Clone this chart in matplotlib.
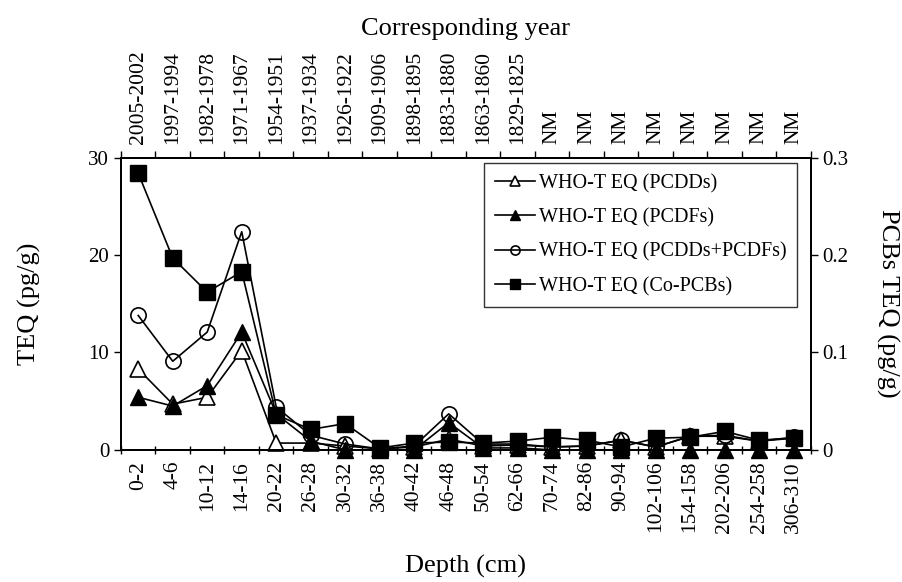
import matplotlib
matplotlib.use("Agg")
import matplotlib.pyplot as plt
import numpy as np

plt.rcParams['font.family'] = ['Liberation Serif', 'DejaVu Serif']

depths = ['0-2', '4-6', '10-12', '14-16', '20-22', '26-28', '30-32', '36-38', '40-42', '46-48',
          '50-54', '62-66', '70-74', '82-86', '90-94', '102-106', '154-158', '202-206', '254-258', '306-310']
years = ['2005-2002', '1997-1994', '1982-1978', '1971-1967', '1954-1951', '1937-1934', '1926-1922',
         '1909-1906', '1898-1895', '1883-1880', '1863-1860', '1829-1825',
         'NM', 'NM', 'NM', 'NM', 'NM', 'NM', 'NM', 'NM']

pcdds = [8.3, 4.7, 5.4, 10.2, 0.7, 0.7, 0.4, 0.1, 0.3, 1.1, 0.4, 0.5, 0.3, 0.4, 1.0, 0.3, 1.4, 1.4, 0.9, 1.2]
pcdfs = [5.4, 4.5, 6.6, 12.1, 3.7, 0.9, 0.0, 0.0, 0.0, 2.8, 0.2, 0.2, 0.0, 0.0, 0.0, 0.0, 0.0, 0.0, 0.0, 0.0]
pcdds_pcdfs = [13.8, 9.1, 12.1, 22.4, 4.4, 1.5, 0.6, 0.1, 0.4, 3.7, 0.6, 0.6, 0.3, 0.4, 1.0, 0.3, 1.4, 1.5, 0.9, 1.3]
co_pcbs = [0.284, 0.197, 0.162, 0.183, 0.036, 0.021, 0.027, 0.002, 0.007, 0.008,
           0.007, 0.009, 0.013, 0.010, 0.003, 0.012, 0.013, 0.019, 0.010, 0.012]

x = np.arange(len(depths))

fig = plt.figure(figsize=(9.03, 5.82), dpi=100)
ax = fig.add_axes([0.134, 0.227, 0.764, 0.502])

lw = 1.2
l1, = ax.plot(x, pcdds, '-', color='black', lw=lw, marker='^', ms=12, mfc='white', mec='black', mew=1.2,
              label='WHO-T EQ (PCDDs)', clip_on=False)
l2, = ax.plot(x, pcdfs, '-', color='black', lw=lw, marker='^', ms=12, mfc='black', mec='black',
              label='WHO-T EQ (PCDFs)', clip_on=False)
l3, = ax.plot(x, pcdds_pcdfs, '-', color='black', lw=lw, marker='o', ms=11, mfc='none', mec='black', mew=1.2,
              label='WHO-T EQ (PCDDs+PCDFs)', clip_on=False)
ax.set_xlim(-0.5, len(depths) - 0.5)
ax.set_ylim(0, 30)
ax.set_yticks([0, 10, 20, 30])
ax.tick_params(axis='y', direction='out', length=5, width=1, labelsize=15)

ax.set_xticks(x)
ax.set_xticklabels(depths, rotation=90, fontsize=15.5)
ax.tick_params(axis='x', which='major', length=0, pad=8)
ax.set_xticks(np.arange(len(depths) + 1) - 0.5, minor=True)
ax.tick_params(axis='x', which='minor', direction='inout', length=6, width=1)
ax.set_xlabel('Depth (cm)', fontsize=19, labelpad=16)
ax.set_ylabel('TEQ (pg/g)', fontsize=19, labelpad=34)

ax2 = ax.twinx()
l4, = ax2.plot(x, co_pcbs, '-', color='black', lw=lw, marker='s', ms=12, mfc='black', mec='black',
               label='WHO-T EQ (Co-PCBs)', clip_on=False)
ax2.set_ylim(0, 0.3)
ax2.set_yticks([0, 0.1, 0.2, 0.3])
ax2.set_yticklabels(['0', '0.1', '0.2', '0.3'])
ax2.tick_params(axis='y', direction='out', length=5, width=1, labelsize=15)
ax2.set_ylabel('PCBs TEQ (pg/g)', fontsize=19, rotation=-90, labelpad=36)

ax3 = ax.twiny()
ax3.set_xlim(ax.get_xlim())
ax3.set_xticks(x)
ax3.set_xticklabels(years, rotation=90, fontsize=15.5)
ax3.tick_params(axis='x', which='major', length=0, pad=10)
ax3.set_xticks(np.arange(len(depths) + 1) - 0.5, minor=True)
ax3.tick_params(axis='x', which='minor', direction='out', length=5, width=1)
ax3.set_xlabel('Corresponding year', fontsize=19, labelpad=11)

for a in (ax, ax2, ax3):
    for s in a.spines.values():
        s.set_linewidth(1.2)

leg = ax3.legend(handles=[l1, l2, l3, l4], loc='upper left', bbox_to_anchor=(0.526, 0.473, 0.454, 0.51),
                 mode='expand', fontsize=14.5, frameon=True, fancybox=False, edgecolor='black',
                 labelspacing=0.75, handlelength=2.0, handletextpad=0.2, markerscale=0.6,
                 borderpad=0.55, borderaxespad=0)
leg.get_frame().set_linewidth(1.0)

fig.savefig('out.png', dpi=100)
